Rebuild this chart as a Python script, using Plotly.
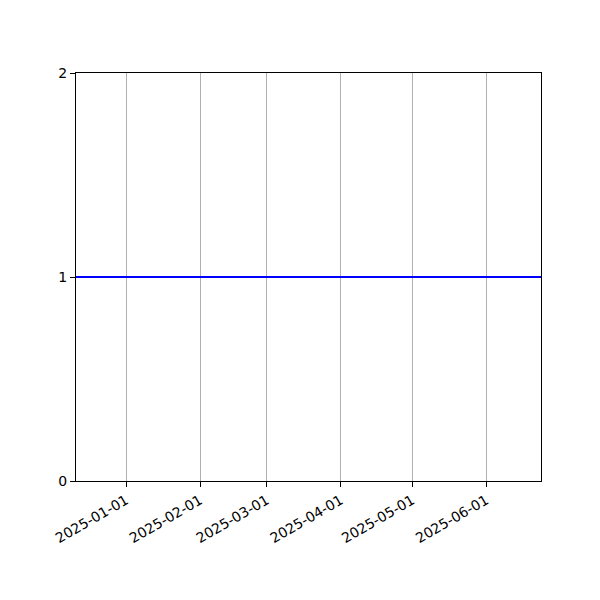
import plotly.graph_objects as go

dates = ["2024-12-11", "2025-06-24"]
values = [1, 1]
tick_dates = ["2025-01-01", "2025-02-01", "2025-03-01", "2025-04-01", "2025-05-01", "2025-06-01"]
y_ticks = [0, 1, 2]

fig = go.Figure()
fig.add_trace(go.Scatter(x=dates, y=values, mode="lines",
                         line=dict(color="#0000ff", width=2), showlegend=False))

fig.update_layout(
    width=600, height=600,
    margin=dict(l=68, r=67, t=65, b=127),
    plot_bgcolor="white", paper_bgcolor="white",
    font=dict(family="DejaVu Sans", size=14, color="black"),
)
fig.update_xaxes(
    type="date", range=["2024-12-11", "2025-06-24"],
    tickvals=tick_dates, ticktext=tick_dates, tickangle=-30,
    showgrid=True, gridcolor="#b0b0b0", gridwidth=1,
    showline=True, linecolor="black", linewidth=1, mirror=True,
    ticks="outside", ticklen=5, tickcolor="black", zeroline=False,
)
fig.update_yaxes(
    range=[0, 2], tickvals=y_ticks, showgrid=False,
    showline=True, linecolor="black", linewidth=1, mirror=True,
    ticks="outside", ticklen=5, tickcolor="black", zeroline=False,
)

fig.write_html("out.html")
